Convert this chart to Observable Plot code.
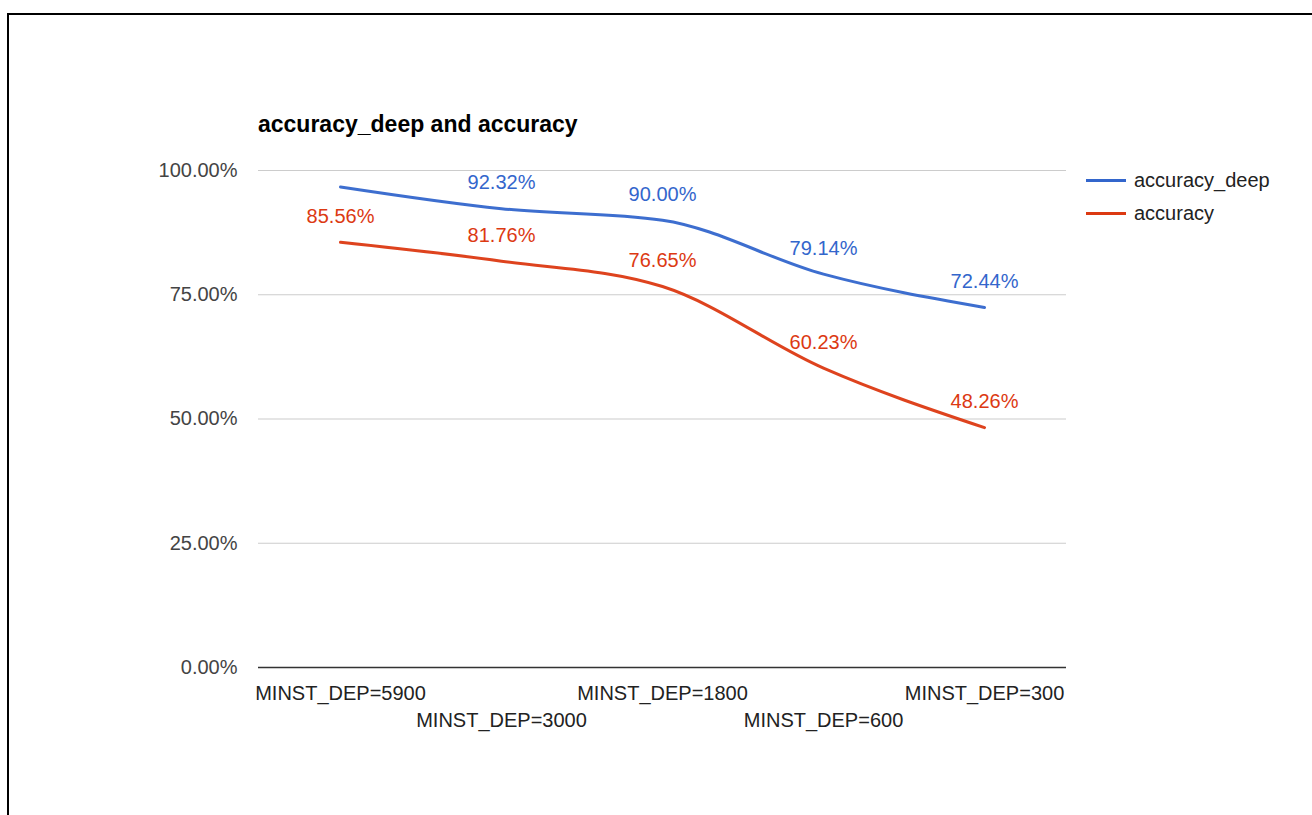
<!DOCTYPE html>
<html><head><meta charset="utf-8">
<script src="https://cdn.jsdelivr.net/npm/d3@7"></script>
<script src="https://cdn.jsdelivr.net/npm/@observablehq/plot@0.6"></script>
<style>
body{margin:0;background:#fff;font-family:"Liberation Sans",Arial,Helvetica,sans-serif;}
#wrap{position:relative;width:1312px;height:815px;overflow:hidden;background:#fff;}
#frame{position:absolute;left:7px;top:13px;width:1400px;height:900px;border-left:2px solid #000;border-top:2px solid #000;box-sizing:border-box;}
#chart{position:absolute;left:0;top:0;}
#title{position:absolute;left:258px;top:111px;font-weight:bold;font-size:23px;color:#000;line-height:26px;white-space:nowrap;}
#legend{position:absolute;left:1086px;top:164px;font-size:20px;color:#222;}
.li{display:flex;align-items:center;height:33px;white-space:nowrap;}
.sw{width:40px;height:3px;margin-right:8px;}
</style>
</head><body>
<div id="wrap">
  <div id="frame"></div>
  <div id="chart"></div>
  <div id="title"></div>
  <div id="legend"></div>
</div>
<script>
// ---- data ----
const categories = ["MINST_DEP=5900", "MINST_DEP=3000", "MINST_DEP=1800", "MINST_DEP=600", "MINST_DEP=300"];
const accuracyDeep = [96.7, 92.32, 90.00, 79.14, 72.44];
const accuracy = [85.56, 81.76, 76.65, 60.23, 48.26];
const seriesNames = ["accuracy_deep", "accuracy"];
const seriesColors = ["#3366cc", "#dc3912"];
const yTicks = [0, 25, 50, 75, 100];
const titleText = "accuracy_deep and accuracy";

// tidy table
const rows = [];
categories.forEach((c, i) => {
  rows.push({cat: c, i, value: accuracyDeep[i], series: seriesNames[0]});
  rows.push({cat: c, i, value: accuracy[i], series: seriesNames[1]});
});
// the reference shows no annotation on the first accuracy_deep point
const labeled = rows.filter(d => !(d.series === seriesNames[0] && d.i === 0));

const fmt = v => v.toFixed(2) + "%";

const chart = Plot.plot({
  width: 1312,
  height: 815,
  marginLeft: 258,
  marginRight: 246,
  marginTop: 170,
  marginBottom: 148,
  style: {fontFamily: '"Liberation Sans", Arial, Helvetica, sans-serif', background: "transparent"},
  x: {type: "point", domain: categories, padding: 0.5},
  y: {domain: [0, 100]},
  color: {domain: seriesNames, range: seriesColors},
  marks: [
    Plot.gridY(yTicks.filter(t => t > 0), {stroke: "#cccccc", strokeOpacity: 1, strokeWidth: 1.2}),
    Plot.ruleY([0], {stroke: "#333", strokeWidth: 1.5}),
    Plot.axisY(yTicks, {tickSize: 0, tickPadding: 21, tickFormat: fmt, fontSize: 20, fill: "#444", label: null}),
    Plot.axisX(categories.filter((_, i) => i % 2 === 0), {tickSize: 0, tickPadding: 18, fontSize: 20, fill: "#222", label: null}),
    Plot.axisX(categories.filter((_, i) => i % 2 === 1), {tickSize: 0, tickPadding: 45, fontSize: 20, fill: "#222", label: null}),
    Plot.line(rows, {x: "cat", y: "value", z: "series", stroke: "series", strokeWidth: 3, curve: "monotone-x", strokeOpacity: 0.95}),
    Plot.text(labeled, {x: "cat", y: "value", text: d => fmt(d.value), fill: "series", fontSize: 20, dy: -26})
  ]
});
document.getElementById("chart").appendChild(chart);

document.getElementById("title").textContent = titleText;
const lg = document.getElementById("legend");
seriesNames.forEach((n, k) => {
  const row = document.createElement("div");
  row.className = "li";
  const sw = document.createElement("div");
  sw.className = "sw";
  sw.style.background = seriesColors[k];
  const t = document.createElement("span");
  t.textContent = n;
  row.appendChild(sw); row.appendChild(t);
  lg.appendChild(row);
});
</script>
</body></html>
